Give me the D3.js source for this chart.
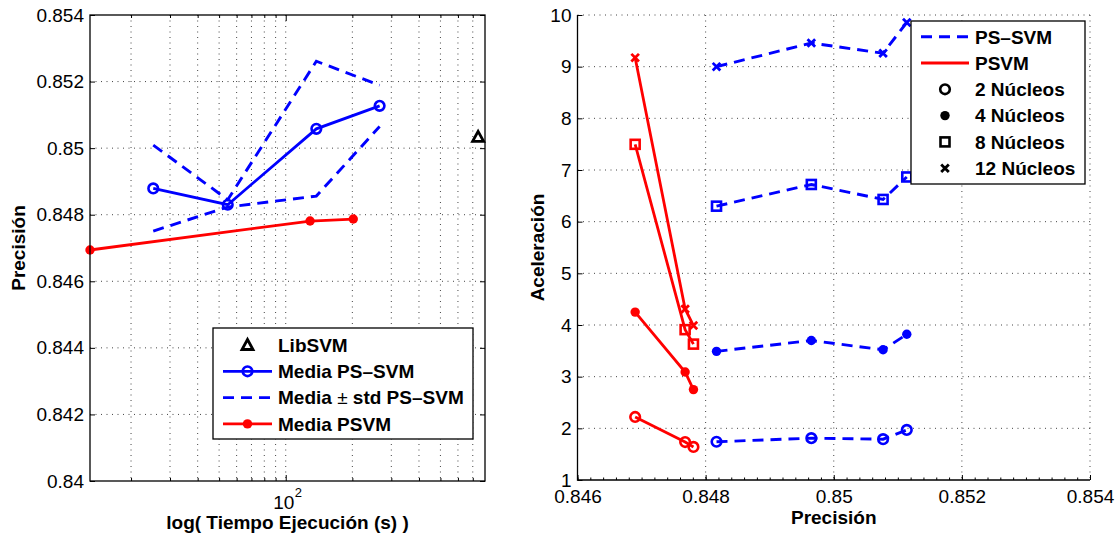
<!DOCTYPE html>
<html>
<head>
<meta charset="utf-8">
<script src="https://cdn.jsdelivr.net/npm/d3@7"></script>
<style>
  body { margin: 0; background: #fff; }
</style>
</head>
<body>
<svg id="chart" width="1117" height="537"></svg>
<script>
// ---- left panel: execution time (log) vs precision ----
const psTime     = [25.2, 54.7, 137.5, 265.6];
const psMean     = [0.84879, 0.84830, 0.85058, 0.85127];
const psUpper    = [0.85009, 0.84845, 0.85261, 0.85189];
const psLower    = [0.84751, 0.84823, 0.84856, 0.85065];
const psvmTime   = [13.05, 128.8, 201.9];
const psvmMean   = [0.84694, 0.84781, 0.84787];
const libsvmTime = [740];
const libsvmPrec = [0.85034];
const leftYTicks = [0.84, 0.842, 0.844, 0.846, 0.848, 0.85, 0.852, 0.854];
const leftLegend = ["LibSVM", "Media PS–SVM", "Media ± std PS–SVM", "Media PSVM"];

// ---- right panel: precision vs speedup, per number of cores ----
const coreLabels  = ["2 Núcleos", "4 Núcleos", "8 Núcleos", "12 Núcleos"];
const psPrec      = [0.84817, 0.84965, 0.85077, 0.85114];
const psSpeed2    = [1.74, 1.81, 1.79, 1.97];
const psSpeed4    = [3.49, 3.70, 3.52, 3.82];
const psSpeed8    = [6.30, 6.72, 6.43, 6.865];
const psSpeed12   = [9.00, 9.457, 9.26, 9.855];
const psvmPrec    = [0.84690, 0.84768, 0.84781];
const psvmSpeed2  = [2.22, 1.735, 1.64];
const psvmSpeed4  = [4.25, 3.09, 2.75];
const psvmSpeed8  = [7.497, 3.91, 3.63];
const psvmSpeed12 = [9.174, 4.31, 3.99];
const rightXTicks = [0.846, 0.848, 0.85, 0.852, 0.854];
const rightYTicks = [1, 2, 3, 4, 5, 6, 7, 8, 9, 10];
const rightLegend = ["PS–SVM", "PSVM"];

const font = '"Liberation Sans", Arial, Helvetica, sans-serif';
const BLUE = '#0000ff', RED = '#ff0000';
const DASH = '11,7';
const svg = d3.select('#chart');

const zip = (a, b) => a.map((v, i) => [v, b[i]]);

function styleAxis(g, size) {
    g.select('.domain').remove();
    g.attr('font-family', font);
    g.selectAll('text').attr('font-size', size).attr('fill', '#000');
    g.selectAll('line').attr('stroke', '#000').attr('stroke-width', 1);
}

function drawMarker(g, type, color) {
    if (type === 'circle') {
        g.append('circle').attr('r', 4.8).attr('fill', 'none')
            .attr('stroke', color).attr('stroke-width', 2.6);
    } else if (type === 'dot') {
        g.append('circle').attr('r', 4.7).attr('fill', color);
    } else if (type === 'square') {
        g.append('rect').attr('x', -4.5).attr('y', -4.5).attr('width', 9).attr('height', 9)
            .attr('fill', 'none').attr('stroke', color).attr('stroke-width', 2.6);
    } else if (type === 'cross') {
        g.append('path').attr('d', 'M-3.8,-3.8L3.8,3.8M-3.8,3.8L3.8,-3.8')
            .attr('stroke', color).attr('stroke-width', 2.8);
    } else if (type === 'triangle') {
        g.append('path').attr('d', 'M0,-5.5L5.5,4.5L-5.5,4.5Z').attr('fill', 'none')
            .attr('stroke', color).attr('stroke-width', 2.8).attr('stroke-linejoin', 'miter');
    }
}

function drawPoints(g, pts, sx, sy, type, color) {
    g.append('g').selectAll('g')
        .data(pts)
        .join('g')
        .attr('transform', d => `translate(${sx(d[0])},${sy(d[1])})`)
        .each(function() { drawMarker(d3.select(this), type, color); });
}

function gridLines(g, xs, ys, box, sx, sy) {
    const grid = g.append('g').attr('stroke', '#444').attr('stroke-width', 1)
        .attr('stroke-dasharray', '1,4.5');
    grid.selectAll('line.v').data(xs).join('line').attr('class', 'v')
        .attr('x1', d => sx(d)).attr('x2', d => sx(d))
        .attr('y1', box.top).attr('y2', box.bottom);
    grid.selectAll('line.h').data(ys).join('line').attr('class', 'h')
        .attr('x1', box.left).attr('x2', box.right)
        .attr('y1', d => sy(d)).attr('y2', d => sy(d));
}

// ================= LEFT PANEL =================
const L = { left: 90, right: 485, top: 15, bottom: 481 };
const xL = d3.scaleLog().domain([13.05, 795]).range([L.left, L.right]);
const yL = d3.scaleLinear().domain([0.84, 0.854]).range([L.bottom, L.top]);
const gL = svg.append('g');

// dotted grid: log minor grid on x, major on y
gridLines(gL, xL.ticks(), leftYTicks.slice(1, -1), L, xL, yL);

// y ticks + labels (left), mirrored ticks (right)
gL.append('g').attr('transform', `translate(${L.left},0)`)
    .call(d3.axisLeft(yL).tickValues(leftYTicks).tickSize(-5).tickPadding(6)
        .tickFormat(d => String(+d.toFixed(3))))
    .call(g => styleAxis(g, 19));
gL.append('g').attr('transform', `translate(${L.right},0)`)
    .call(d3.axisRight(yL).tickValues(leftYTicks).tickSize(-5).tickFormat(''))
    .call(g => styleAxis(g, 19));

// x minor ticks, bottom and top
const minorX = xL.ticks().filter(d => d !== 100);
gL.append('g').attr('transform', `translate(0,${L.bottom})`)
    .call(d3.axisBottom(xL).tickValues(minorX).tickSize(-3).tickFormat(''))
    .call(g => styleAxis(g, 19));
gL.append('g').attr('transform', `translate(0,${L.top})`)
    .call(d3.axisTop(xL).tickValues(minorX).tickSize(-3).tickFormat(''))
    .call(g => styleAxis(g, 19));
gL.append('g').attr('transform', `translate(0,${L.bottom})`)
    .call(d3.axisBottom(xL).tickValues([100]).tickSize(-6).tickFormat(''))
    .call(g => styleAxis(g, 19));
gL.append('g').attr('transform', `translate(0,${L.top})`)
    .call(d3.axisTop(xL).tickValues([100]).tickSize(-6).tickFormat(''))
    .call(g => styleAxis(g, 19));

// 10^2 label
gL.append('text').attr('x', xL(100) - 2).attr('y', 509).attr('text-anchor', 'middle')
    .attr('font-family', font).attr('font-size', 19).text('10');
gL.append('text').attr('x', xL(100) + 9).attr('y', 497)
    .attr('font-family', font).attr('font-size', 13).text('2');

const lineL = d3.line().x(d => xL(d[0])).y(d => yL(d[1]));

// std band lines
[psUpper, psLower].forEach(vals => {
    gL.append('path').datum(zip(psTime, vals)).attr('d', lineL)
        .attr('fill', 'none').attr('stroke', BLUE).attr('stroke-width', 2.9)
        .attr('stroke-dasharray', DASH);
});
// mean PS-SVM
gL.append('path').datum(zip(psTime, psMean)).attr('d', lineL)
    .attr('fill', 'none').attr('stroke', BLUE).attr('stroke-width', 2.8);
drawPoints(gL, zip(psTime, psMean), xL, yL, 'circle', BLUE);
// PSVM
gL.append('path').datum(zip(psvmTime, psvmMean)).attr('d', lineL)
    .attr('fill', 'none').attr('stroke', RED).attr('stroke-width', 2.8);
drawPoints(gL, zip(psvmTime, psvmMean), xL, yL, 'dot', RED);
// LibSVM
drawPoints(gL, zip(libsvmTime, libsvmPrec), xL, yL, 'triangle', '#000');

// frame
gL.append('rect').attr('x', L.left).attr('y', L.top)
    .attr('width', L.right - L.left).attr('height', L.bottom - L.top)
    .attr('fill', 'none').attr('stroke', '#000').attr('stroke-width', 1.3);

// legend
const legL = gL.append('g');
legL.append('rect').attr('x', 213).attr('y', 328).attr('width', 260).attr('height', 111)
    .attr('fill', '#fff').attr('stroke', '#000').attr('stroke-width', 1.3);
const rowL = i => 345 + i * 26.3;
drawMarker(legL.append('g').attr('transform', `translate(247.5,${rowL(0)})`), 'triangle', '#000');
legL.append('line').attr('x1', 223).attr('x2', 272).attr('y1', rowL(1)).attr('y2', rowL(1))
    .attr('stroke', BLUE).attr('stroke-width', 2.8);
drawMarker(legL.append('g').attr('transform', `translate(247.5,${rowL(1)})`), 'circle', BLUE);
legL.append('line').attr('x1', 223).attr('x2', 272).attr('y1', rowL(2)).attr('y2', rowL(2))
    .attr('stroke', BLUE).attr('stroke-width', 2.9).attr('stroke-dasharray', DASH);
legL.append('line').attr('x1', 223).attr('x2', 272).attr('y1', rowL(3)).attr('y2', rowL(3))
    .attr('stroke', RED).attr('stroke-width', 2.8);
drawMarker(legL.append('g').attr('transform', `translate(247.5,${rowL(3)})`), 'dot', RED);

legL.selectAll('text.lab').data(leftLegend).join('text').attr('class', 'lab')
    .attr('x', 278).attr('y', (d, i) => rowL(i)).attr('dy', '0.36em')
    .attr('font-family', font).attr('font-size', 19).attr('font-weight', 'bold')
    .each(function(d) {
        const t = d3.select(this);
        if (d.includes('±')) {
            const parts = d.split('±');
            t.append('tspan').text(parts[0]);
            t.append('tspan').attr('font-weight', 'normal').text('±');
            t.append('tspan').text(parts[1]);
        } else {
            t.text(d);
        }
    });

// axis labels
gL.append('text').attr('x', 287.5).attr('y', 529).attr('text-anchor', 'middle')
    .attr('font-family', font).attr('font-size', 19).attr('font-weight', 'bold')
    .text('log( Tiempo Ejecución (s) )');
gL.append('text').attr('transform', `translate(25,${(L.top + L.bottom) / 2}) rotate(-90)`)
    .attr('text-anchor', 'middle')
    .attr('font-family', font).attr('font-size', 19).attr('font-weight', 'bold')
    .text('Precisión');

// ================= RIGHT PANEL =================
const R = { left: 577.5, right: 1090, top: 15, bottom: 480 };
const xR = d3.scaleLinear().domain([0.846, 0.854]).range([R.left, R.right]);
const yR = d3.scaleLinear().domain([1, 10]).range([R.bottom, R.top]);
const gR = svg.append('g');

gridLines(gR, rightXTicks.slice(1), rightYTicks.slice(1), R, xR, yR);

gR.append('g').attr('transform', `translate(${R.left},0)`)
    .call(d3.axisLeft(yR).tickValues(rightYTicks).tickSize(-5).tickPadding(6))
    .call(g => styleAxis(g, 19));
gR.append('g').attr('transform', `translate(0,${R.bottom})`)
    .call(d3.axisBottom(xR).tickValues(rightXTicks).tickSize(-5).tickPadding(10)
        .tickFormat(d => String(+d.toFixed(3))))
    .call(g => styleAxis(g, 19));
gR.append('g').attr('transform', `translate(0,${R.bottom})`)
    .call(d3.axisBottom(xR).tickValues(xR.ticks(40)).tickSize(-2.5).tickFormat(''))
    .call(g => styleAxis(g, 19));

const lineR = d3.line().x(d => xR(d[0])).y(d => yR(d[1]));
const markerTypes = ['circle', 'dot', 'square', 'cross'];

[psvmSpeed2, psvmSpeed4, psvmSpeed8, psvmSpeed12].forEach((vals, i) => {
    const pts = zip(psvmPrec, vals);
    gR.append('path').datum(pts).attr('d', lineR)
        .attr('fill', 'none').attr('stroke', RED).attr('stroke-width', 2.8);
    drawPoints(gR, pts, xR, yR, markerTypes[i], RED);
});
[psSpeed2, psSpeed4, psSpeed8, psSpeed12].forEach((vals, i) => {
    const pts = zip(psPrec, vals);
    gR.append('path').datum(pts).attr('d', lineR)
        .attr('fill', 'none').attr('stroke', BLUE).attr('stroke-width', 2.9)
        .attr('stroke-dasharray', DASH);
    drawPoints(gR, pts, xR, yR, markerTypes[i], BLUE);
});

// axis lines (box off)
gR.append('path')
    .attr('d', `M${R.left},${R.top}V${R.bottom}H${R.right}`)
    .attr('fill', 'none').attr('stroke', '#000').attr('stroke-width', 1.3);

// legend
const legR = gR.append('g');
legR.append('rect').attr('x', 911).attr('y', 21).attr('width', 174).attr('height', 163)
    .attr('fill', '#fff').attr('stroke', '#000').attr('stroke-width', 1.3);
const rowR = i => 36.7 + i * 26.3;
legR.append('line').attr('x1', 921).attr('x2', 969).attr('y1', rowR(0)).attr('y2', rowR(0))
    .attr('stroke', BLUE).attr('stroke-width', 2.9).attr('stroke-dasharray', DASH);
legR.append('line').attr('x1', 921).attr('x2', 969).attr('y1', rowR(1)).attr('y2', rowR(1))
    .attr('stroke', RED).attr('stroke-width', 2.8);
markerTypes.forEach((t, i) => {
    drawMarker(legR.append('g').attr('transform', `translate(945,${rowR(i + 2)})`), t, '#000');
});
legR.selectAll('text.lab').data(rightLegend.concat(coreLabels)).join('text').attr('class', 'lab')
    .attr('x', 975).attr('y', (d, i) => rowR(i)).attr('dy', '0.36em')
    .attr('font-family', font).attr('font-size', 19).attr('font-weight', 'bold')
    .text(d => d);

// axis labels
gR.append('text').attr('x', (R.left + R.right) / 2).attr('y', 524).attr('text-anchor', 'middle')
    .attr('font-family', font).attr('font-size', 19).attr('font-weight', 'bold')
    .text('Precisión');
gR.append('text').attr('transform', `translate(544,${(R.top + R.bottom) / 2}) rotate(-90)`)
    .attr('text-anchor', 'middle')
    .attr('font-family', font).attr('font-size', 19).attr('font-weight', 'bold')
    .text('Aceleración');
</script>
</body>
</html>
